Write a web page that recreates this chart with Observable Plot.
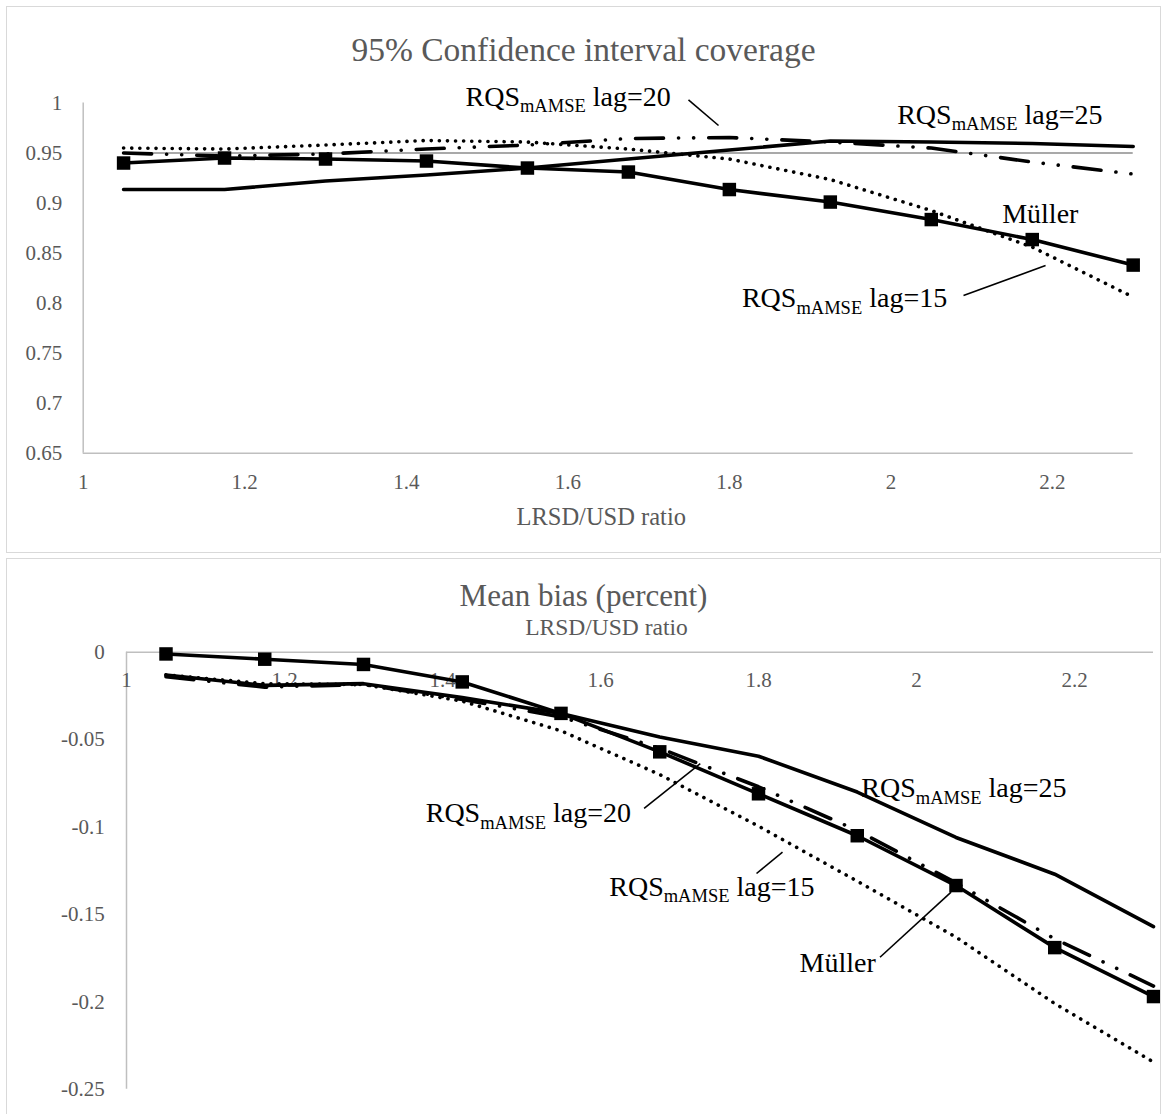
<!DOCTYPE html>
<html>
<head>
<meta charset="utf-8">
<script src="https://cdn.jsdelivr.net/npm/d3@7"></script>
<script src="https://cdn.jsdelivr.net/npm/@observablehq/plot@0.6"></script>
<style>
  body { margin: 0; background: #fff; width: 1167px; height: 1114px; overflow: hidden; position: relative; }
  .chart { position: absolute; left: 0; }
  .chart svg, .chart svg text { font-family: 'Liberation Serif', 'DejaVu Serif', serif; }
  .panel { position: absolute; left: 6px; width: 1155px; border: 1px solid #d9d9d9; box-sizing: border-box; pointer-events: none; }
  #frame1 { top: 6px; height: 547px; }
  #frame2 { top: 558px; height: 600px; }
</style>
</head>
<body>
<div id="chart1" class="chart" style="top:0px"></div>
<div id="chart2" class="chart" style="top:555px"></div>
<div id="frame1" class="panel"></div>
<div id="frame2" class="panel"></div>
<script>
// LRSD/USD ratio at which each estimator was evaluated
const ratios = [1.05, 1.175, 1.3, 1.425, 1.55, 1.675, 1.8, 1.925, 2.05, 2.175, 2.3];

// 95% confidence interval coverage
const coverageMuller = [0.940, 0.945, 0.944, 0.942, 0.935, 0.931, 0.9135, 0.901, 0.8835, 0.8635, 0.838];
const coverageLag15  = [0.955, 0.954, 0.958, 0.9625, 0.961, 0.954, 0.944, 0.9235, 0.8925, 0.856, 0.806];
const coverageLag20  = [0.950, 0.947, 0.949, 0.954, 0.958, 0.9645, 0.9655, 0.961, 0.955, 0.941, 0.929];
const coverageLag25  = [0.9135, 0.9135, 0.922, 0.928, 0.935, 0.944, 0.953, 0.962, 0.961, 0.9595, 0.9565];
const nominalLevel = 0.95;

// Mean bias (percent)
const biasMuller = [-0.001, -0.004, -0.007, -0.017, -0.035, -0.057, -0.081, -0.105, -0.1335, -0.169, -0.197];
const biasLag15  = [-0.013, -0.018, -0.0185, -0.028, -0.045, -0.070, -0.0995, -0.131, -0.163, -0.201, -0.2345];
const biasLag20  = [-0.014, -0.020, -0.0185, -0.027, -0.037, -0.055, -0.077, -0.102, -0.132, -0.164, -0.191];
const biasLag25  = [-0.013, -0.019, -0.018, -0.026, -0.035, -0.0485, -0.0595, -0.080, -0.106, -0.127, -0.157];

// Tick values
const xTicks = [1, 1.2, 1.4, 1.6, 1.8, 2, 2.2];
const coverageTicks = [0.65, 0.7, 0.75, 0.8, 0.85, 0.9, 0.95, 1];
const biasTicks = [-0.25, -0.2, -0.15, -0.1, -0.05, 0];

// Series labels, placed in data units
const coverageLabels = [
  {text: "RQSmAMSE lag=20", x: 1.4733, y: 0.9975, anchor: "start"},
  {text: "RQSmAMSE lag=25", x: 2.0078, y: 0.9795, anchor: "start"},
  {text: "Müller", x: 2.1378, y: 0.8798, anchor: "start"},
  {text: "RQSmAMSE lag=15", x: 2.0697, y: 0.7958, anchor: "end"}
];
const coverageLeaders = [
  {x1: 1.7494, y1: 1.0032, x2: 1.7866, y2: 0.9775},
  {x1: 2.0899, y1: 0.8075, x2: 2.1915, y2: 0.8375}
];
const biasLabels = [
  {text: "RQSmAMSE lag=20", x: 1.6386, y: -0.0974, anchor: "end"},
  {text: "RQSmAMSE lag=25", x: 1.9301, y: -0.0831, anchor: "start"},
  {text: "RQSmAMSE lag=15", x: 1.8709, y: -0.1392, anchor: "end"},
  {text: "Müller", x: 1.8519, y: -0.1831, anchor: "start"}
];
const biasLeaders = [
  {x1: 1.6552, y1: -0.0894, x2: 1.7263, y2: -0.0638},
  {x1: 1.7975, y1: -0.1266, x2: 1.8304, y2: -0.1144},
  {x1: 1.9538, y1: -0.1745, x2: 2.0438, y2: -0.1373}
];

const serif = "'Liberation Serif', 'DejaVu Serif', serif";
const textGray = "#595959";
const axisGray = "#bfbfbf";
const fmt = d => String(+d.toFixed(2));

const series = values => ratios.map((ratio, i) => ({ratio, value: values[i]}));

const dotted = {stroke: "#000", strokeWidth: 3.6, strokeDasharray: "0.1 8", strokeLinecap: "round"};
const dashDotDot = {stroke: "#000", strokeWidth: 3.6, strokeDasharray: "28 15 0.1 15 0.1 15", strokeLinecap: "round"};
const solid = {stroke: "#000", strokeWidth: 3.6, strokeLinejoin: "round"};

function seriesMarks(m, l15, l20, l25) {
  return [
    Plot.line(series(l15), {x: "ratio", y: "value", ...dotted}),
    Plot.line(series(l20), {x: "ratio", y: "value", ...dashDotDot}),
    Plot.line(series(l25), {x: "ratio", y: "value", ...solid}),
    Plot.line(series(m), {x: "ratio", y: "value", ...solid}),
    Plot.dot(series(m), {x: "ratio", y: "value", symbol: "square", r: 7.6, fill: "#000", stroke: null})
  ];
}

function labelMarks(labels, leaders) {
  const opts = {x: "x", y: "y", text: "text", lineAnchor: "bottom", fontSize: 28, fontFamily: serif, fill: "#000"};
  return [
    Plot.link(leaders, {x1: "x1", y1: "y1", x2: "x2", y2: "y2", stroke: "#000", strokeWidth: 1.6}),
    Plot.text(labels.filter(d => d.anchor === "start"), {...opts, textAnchor: "start"}),
    Plot.text(labels.filter(d => d.anchor === "end"), {...opts, textAnchor: "end"})
  ];
}

// Write the estimator name with its subscript
function addSubscripts(svg) {
  d3.select(svg).selectAll("text").each(function () {
    const t = d3.select(this);
    const m = t.text().match(/^RQS(mAMSE)(.*)$/);
    if (!m) return;
    t.text(null);
    t.append("tspan").text("RQS");
    t.append("tspan").attr("font-size", 18.5).attr("dy", 6.5).text(m[1]);
    t.append("tspan").attr("dy", -6.5).text(m[2]);
  });
  return svg;
}

const axisText = {tickSize: 0, label: null, fill: textGray, fontSize: 21, fontFamily: serif, fontVariant: "normal"};

const coverage = Plot.plot({
  width: 1167,
  height: 555,
  marginLeft: 82.7,
  marginRight: 34.3,
  marginTop: 102.5,
  marginBottom: 102.3,
  x: {domain: [1, 2.3]},
  y: {domain: [0.65, 1]},
  style: {fontFamily: serif, fontSize: "21px", background: "transparent", overflow: "visible"},
  marks: [
    Plot.ruleX([1], {stroke: axisGray, strokeWidth: 1.5}),
    Plot.ruleY([0.65], {stroke: axisGray, strokeWidth: 1.5}),
    Plot.axisY({...axisText, ticks: coverageTicks, tickFormat: fmt, tickPadding: 21}),
    Plot.axisX({...axisText, ticks: xTicks, tickFormat: fmt, tickPadding: 29, lineAnchor: "middle"}),
    Plot.ruleY([nominalLevel], {x1: ratios[0], x2: ratios[ratios.length - 1], stroke: "#8c8c8c", strokeWidth: 1.5}),
    ...seriesMarks(coverageMuller, coverageLag15, coverageLag20, coverageLag25),
    ...labelMarks(coverageLabels, coverageLeaders),
    Plot.text(["95% Confidence interval coverage"], {text: d => d, frameAnchor: "top", dx: -24.7, dy: -42.5, lineAnchor: "bottom", fontSize: 33.5, fontFamily: serif, fill: textGray}),
    Plot.text(["LRSD/USD ratio"], {text: d => d, frameAnchor: "bottom", dx: -7, dy: 72, lineAnchor: "bottom", fontSize: 24.5, fontFamily: serif, fill: textGray})
  ]
});
document.getElementById("chart1").append(addSubscripts(coverage));

const bias = Plot.plot({
  width: 1167,
  height: 559,
  marginLeft: 126,
  marginRight: 14,
  marginTop: 96.7,
  marginBottom: 25.3,
  x: {domain: [1, 2.3]},
  y: {domain: [-0.25, 0]},
  style: {fontFamily: serif, fontSize: "21px", background: "transparent", overflow: "visible"},
  marks: [
    Plot.ruleX([1], {stroke: axisGray, strokeWidth: 1.5}),
    Plot.ruleY([0], {stroke: axisGray, strokeWidth: 1.5}),
    Plot.axisY({...axisText, ticks: biasTicks, tickFormat: fmt, tickPadding: 21.7}),
    Plot.axisX({...axisText, anchor: "top", ticks: xTicks, tickFormat: fmt, tickPadding: -28, lineAnchor: "middle"}),
    ...seriesMarks(biasMuller, biasLag15, biasLag20, biasLag25),
    ...labelMarks(biasLabels, biasLeaders),
    Plot.text(["Mean bias (percent)"], {text: d => d, frameAnchor: "top", dx: -56.5, dy: -46, lineAnchor: "bottom", fontSize: 31, fontFamily: serif, fill: textGray}),
    Plot.text(["LRSD/USD ratio"], {text: d => d, frameAnchor: "top", dx: -33.5, dy: -17.5, lineAnchor: "bottom", fontSize: 23.5, fontFamily: serif, fill: textGray})
  ]
});
document.getElementById("chart2").append(addSubscripts(bias));
</script>
</body>
</html>
